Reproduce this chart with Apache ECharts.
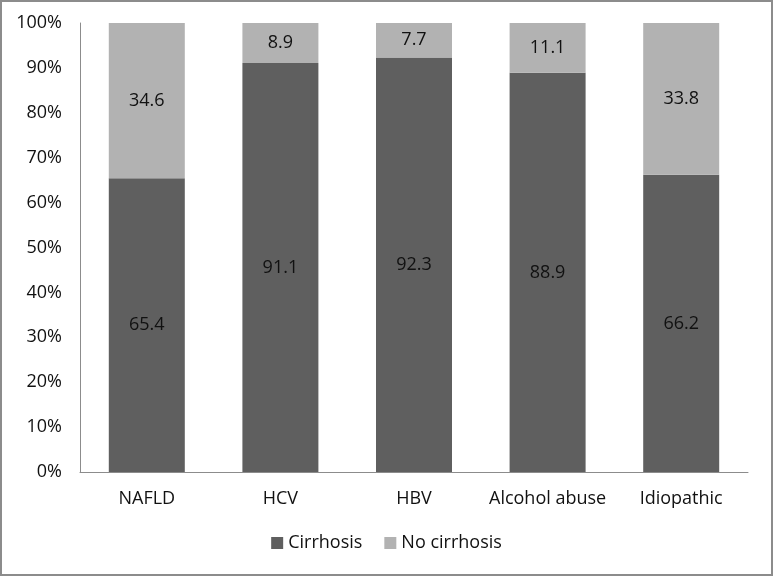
<!DOCTYPE html>
<html><head><meta charset="utf-8">
<script src="https://cdn.jsdelivr.net/npm/echarts@6/dist/echarts.min.js"></script>
<style>html,body{margin:0;padding:0;background:#fff}#c{width:773px;height:576px;box-sizing:border-box;border:2px solid #8c8c8c}</style>
</head><body><div id="c"></div>
<script>
const categories = ['NAFLD', 'HCV', 'HBV', 'Alcohol abuse', 'Idiopathic'];
const cirrhosis = [65.4, 91.1, 92.3, 88.9, 66.2];
const noCirrhosis = [34.6, 8.9, 7.7, 11.1, 33.8];
const seriesNames = ['Cirrhosis', 'No cirrhosis'];
const font = 'Open Sans, Noto Sans, sans-serif';
const chart = echarts.init(document.getElementById('c'), null, {renderer: 'canvas'});
const lbl = {show: true, position: 'inside', color: '#111', fontSize: 18, fontFamily: font, formatter: p => p.value.toFixed(1)};
chart.setOption({
  animation: false,
  grid: {left: 78, right: 23, top: 21, bottom: 102},
  legend: {bottom: 17, left: 'center', itemWidth: 12, itemHeight: 12, itemGap: 22,
    textStyle: {fontSize: 18, fontFamily: font, color: '#111'},
    data: seriesNames.map(n => ({name: n, icon: 'rect'}))},
  xAxis: {type: 'category', data: categories,
    axisLine: {lineStyle: {color: '#8c8c8c', width: 1}}, axisTick: {show: false},
    axisLabel: {interval: 0, fontSize: 18, fontFamily: font, color: '#111', margin: 18}},
  yAxis: {type: 'value', min: 0, max: 100, interval: 10,
    axisLine: {show: true, lineStyle: {color: '#8c8c8c', width: 1}}, axisTick: {show: false},
    splitLine: {show: false},
    axisLabel: {fontSize: 18, fontFamily: font, color: '#111', margin: 18, formatter: v => v + '%'}},
  series: [
    {name: seriesNames[0], type: 'bar', stack: 's', data: cirrhosis, barWidth: 76, itemStyle: {color: '#5f5f5f'}, label: lbl},
    {name: seriesNames[1], type: 'bar', stack: 's', data: noCirrhosis, barWidth: 76, itemStyle: {color: '#b2b2b2'}, label: lbl}
  ]
});
</script></body></html>
